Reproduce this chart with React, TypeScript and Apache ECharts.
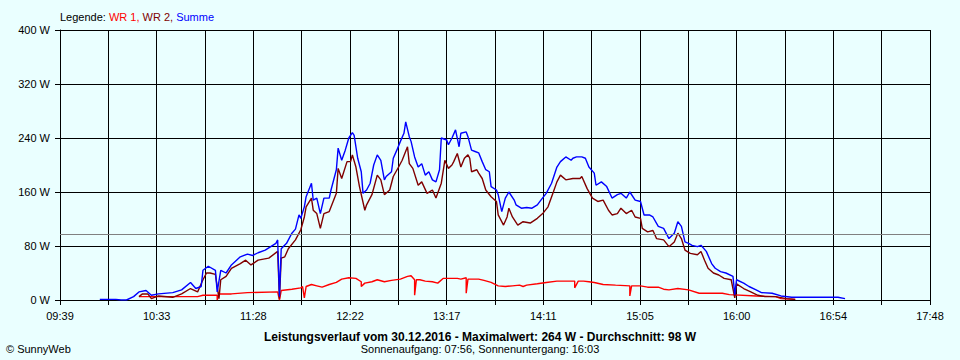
import { useEffect, useRef } from 'react';
import * as echarts from 'echarts';

// ---- axis definition ----
const axisStartMin = 579.62; // 09:39:37
const tickStepMin = 27.175;
const tickCount = 18;
const yMax = 400;
const yStep = 80;
const averageW = 98;

// ---- texts ----
const legendLabel = 'Legende: ';
const seriesNames = ['WR 1', 'WR 2', 'Summe'];
const titleText = 'Leistungsverlauf vom 30.12.2016 - Maximalwert: 264 W - Durchschnitt: 98 W';
const subtitleText = 'Sonnenaufgang: 07:56, Sonnenuntergang: 16:03';
const creditText = '\u00A9 SunnyWeb';

// ---- data: Summe ----
const summeTimes = ['10:02','10:11','10:14','10:17','10:21','10:24','10:28','10:31','10:35','10:43','10:48','10:53','10:56','10:59','11:00','11:03','11:07','11:08','11:10','11:13','11:16','11:21','11:25','11:28','11:31','11:35','11:41','11:42','11:43','11:44','11:47','11:50','11:52','11:54','11:55','11:57','11:58','12:01','12:02','12:04','12:06','12:08','12:11','12:12','12:15','12:16','12:18','12:20','12:22','12:24','12:25','12:27','12:29','12:30','12:32','12:34','12:36','12:38','12:40','12:42','12:43','12:46','12:47','12:49','12:51','12:53','12:54','12:56','12:57','12:59','13:01','13:03','13:05','13:07','13:09','13:11','13:13','13:14','13:17','13:18','13:20','13:22','13:24','13:25','13:28','13:29','13:31','13:33','13:35','13:37','13:39','13:41','13:42','13:45','13:46','13:48','13:50','13:52','13:55','13:56','13:59','14:02','14:05','14:08','14:10','14:13','14:16','14:19','14:21','14:24','14:27','14:28','14:30','14:33','14:35','14:37','14:40','14:41','14:44','14:47','14:50','14:53','14:55','14:58','15:00','15:03','15:06','15:08','15:11','15:13','15:16','15:19','15:22','15:25','15:27','15:29','15:31','15:33','15:35','15:38','15:40','15:43','15:46','15:48','15:51','15:54','15:58','15:59','16:00','16:04','16:07','16:11','16:14','16:20','16:25','16:31','16:42','16:52','16:57','17:01'];
const summeValues = [1,1,0,0,5,12,14,7,9,11,15,26,17,20,44,50,44,12,44,40,52,64,68,66,70,74,84,89,5,76,84,99,105,126,121,138,153,173,148,151,128,151,151,163,193,225,207,222,240,248,244,210,190,158,163,173,200,215,207,178,183,190,210,222,235,247,264,242,235,212,197,202,185,190,178,175,193,240,237,230,240,252,227,247,249,242,222,220,218,205,193,190,168,163,156,131,151,160,148,141,136,137,136,141,148,158,173,197,205,212,207,210,212,212,210,197,188,170,175,168,151,156,158,151,160,148,146,126,126,123,109,106,91,99,116,109,86,84,81,79,81,72,54,47,42,40,35,8,30,25,20,15,11,10,6,4,4,4,4,2];

// ---- data: WR 2 ----
const wr2Times = ['10:24','10:26','10:29','10:31','10:35','10:43','10:48','10:53','10:57','11:00','11:02','11:04','11:07','11:09','11:10','11:13','11:16','11:21','11:24','11:27','11:31','11:37','11:42','11:43','11:44','11:46','11:48','11:52','11:55','11:57','11:58','12:01','12:02','12:04','12:06','12:08','12:11','12:15','12:16','12:18','12:21','12:23','12:24','12:26','12:28','12:31','12:32','12:35','12:38','12:40','12:42','12:45','12:47','12:50','12:52','12:55','12:56','12:58','13:01','13:03','13:06','13:09','13:11','13:14','13:16','13:18','13:20','13:21','13:23','13:25','13:27','13:29','13:30','13:31','13:34','13:35','13:37','13:39','13:42','13:45','13:46','13:49','13:51','13:52','13:54','13:57','14:00','14:04','14:08','14:11','14:14','14:17','14:19','14:21','14:24','14:28','14:32','14:33','14:36','14:39','14:42','14:45','14:48','14:50','14:53','14:55','14:58','15:01','15:03','15:06','15:07','15:10','15:13','15:15','15:19','15:22','15:25','15:27','15:29','15:31','15:34','15:38','15:40','15:42','15:44','15:47','15:50','15:53','15:57','15:59','16:00','16:04','16:08','16:12','16:16','16:22','16:28','16:33'];
const wr2Values = [5,9,9,2,6,4,9,17,12,30,40,40,38,2,30,35,47,54,59,52,59,62,72,2,62,64,76,89,104,123,138,151,133,128,106,128,131,158,195,180,205,205,215,197,168,133,141,156,185,178,156,163,183,197,207,227,202,195,170,175,158,163,151,173,207,195,200,205,217,197,210,215,210,190,193,188,180,163,153,146,126,111,123,136,123,111,116,114,121,128,138,160,175,185,178,180,180,183,165,151,146,148,133,126,128,136,128,133,123,121,106,101,103,91,89,79,86,99,91,74,69,67,72,59,47,40,37,32,30,3,24,17,12,7,5,5,2,1];

// ---- data: WR 1 ----
const wr1Times = ['10:24','10:57','11:00','11:08','11:08','11:09','11:16','11:25','11:42','11:43','11:44','11:50','11:55','11:56','11:57','11:58','12:01','12:04','12:07','12:11','12:15','12:18','12:22','12:26','12:29','12:29','12:31','12:35','12:38','12:42','12:46','12:51','12:55','12:57','12:59','12:59','13:00','13:02','13:05','13:09','13:12','13:15','13:19','13:23','13:25','13:28','13:28','13:29','13:31','13:35','13:38','13:42','13:46','13:50','13:54','13:58','14:00','14:02','14:08','14:13','14:19','14:25','14:29','14:29','14:31','14:34','14:37','14:40','14:45','14:52','15:00','15:00','15:01','15:06','15:10','15:16','15:19','15:22','15:27','15:33','15:39','15:52','15:56','16:11','16:22','16:25','16:33'];
const wr1Values = [5,5,7,7,0,9,9,11,12,0,14,16,18,20,3,20,23,21,19,23,26,31,33,32,27,20,25,27,30,27,29,31,35,36,30,7,30,30,28,27,25,32,32,32,31,33,10,31,31,31,29,26,21,20,21,22,20,22,24,26,28,28,28,18,28,28,27,26,23,22,21,6,21,21,19,19,16,15,17,15,10,10,8,6,5,2,1];

const FONT = '"Liberation Sans", Arial, sans-serif';
const COLORS = ['#FF0000', '#800000', '#0000FF'];

const toMin = (s: string) => {
  const [h, m] = s.split(':').map(Number);
  return h * 60 + m;
};
const toPairs = (times: string[], values: number[]) =>
  times.map((t, i) => [toMin(t) - axisStartMin, values[i]]);
const fmtClock = (v: number) => {
  const total = Math.floor(axisStartMin + v + 1e-6);
  const h = Math.floor(total / 60);
  const m = total % 60;
  return `${String(h).padStart(2, '0')}:${String(m).padStart(2, '0')}`;
};

export default function App() {
  const ref = useRef<HTMLDivElement>(null);
  useEffect(() => {
    if (!ref.current) return;
    const chart = echarts.init(ref.current, null, { renderer: 'svg' });
    const line = (name: string, data: number[][], color: string, extra: any = {}) => ({
      name,
      type: 'line',
      data,
      showSymbol: false,
      symbol: 'none',
      lineStyle: { color, width: 1.4 },
      itemStyle: { color },
      ...extra,
    });
    chart.setOption({
      animation: false,
      backgroundColor: '#EAFFFF',
      textStyle: { fontFamily: FONT },
      grid: { left: 60, right: 30, top: 30, bottom: 60, containLabel: false },
      xAxis: {
        type: 'value',
        min: 0,
        max: tickStepMin * tickCount,
        interval: tickStepMin,
        axisLine: { show: true, lineStyle: { color: '#000', width: 1 } },
        axisTick: { show: true, length: 5, lineStyle: { color: '#000' } },
        splitLine: { show: true, lineStyle: { color: '#000', width: 1 } },
        axisLabel: {
          color: '#000',
          fontSize: 11,
          fontFamily: FONT,
          margin: 10,
          showMinLabel: true,
          showMaxLabel: true,
          formatter: (v: number) => {
            const idx = Math.round(v / tickStepMin);
            return idx % 2 === 0 ? fmtClock(v) : '';
          },
        },
      },
      yAxis: {
        type: 'value',
        min: 0,
        max: yMax,
        interval: yStep,
        axisLine: { show: true, lineStyle: { color: '#000', width: 1 } },
        axisTick: { show: true, length: 5, lineStyle: { color: '#000' } },
        splitLine: { show: true, lineStyle: { color: '#000', width: 1 } },
        axisLabel: {
          color: '#000',
          fontSize: 11,
          fontFamily: FONT,
          margin: 10,
          formatter: (v: number) => `${v} W`,
        },
      },
      series: [
        line(seriesNames[0], toPairs(wr1Times, wr1Values), COLORS[0]),
        line(seriesNames[1], toPairs(wr2Times, wr2Values), COLORS[1]),
        line(seriesNames[2], toPairs(summeTimes, summeValues), COLORS[2], {
          markLine: {
            silent: true,
            symbol: 'none',
            label: { show: false },
            lineStyle: { color: '#808080', type: 'solid', width: 1 },
            data: [{ yAxis: averageW }],
          },
        }),
      ],
      graphic: [
        {
          type: 'text',
          x: 60,
          y: 17,
          style: {
            text: `{k|${legendLabel}}{a|${seriesNames[0]}, }{b|${seriesNames[1]}, }{c|${seriesNames[2]}}`,
            fontSize: 11,
            fontFamily: FONT,
            verticalAlign: 'middle',
            align: 'left',
            rich: {
              k: { fill: '#000', fontSize: 11, fontFamily: FONT },
              a: { fill: COLORS[0], fontSize: 11, fontFamily: FONT },
              b: { fill: COLORS[1], fontSize: 11, fontFamily: FONT },
              c: { fill: COLORS[2], fontSize: 11, fontFamily: FONT },
            },
          },
        },
        {
          type: 'text',
          x: 480,
          y: 337,
          style: {
            text: titleText,
            fill: '#000',
            fontSize: 12,
            fontWeight: 'bold',
            fontFamily: FONT,
            align: 'center',
            verticalAlign: 'middle',
          },
        },
        {
          type: 'text',
          x: 480,
          y: 349,
          style: {
            text: subtitleText,
            fill: '#000',
            fontSize: 11,
            fontFamily: FONT,
            align: 'center',
            verticalAlign: 'middle',
          },
        },
        {
          type: 'text',
          x: 6,
          y: 349,
          style: {
            text: creditText,
            fill: '#000',
            fontSize: 11,
            fontFamily: FONT,
            align: 'left',
            verticalAlign: 'middle',
          },
        },
      ],
    });
    return () => chart.dispose();
  }, []);
  return (
    <div
      ref={ref}
      style={{ position: 'fixed', left: 0, top: 0, width: 960, height: 360 }}
    />
  );
}
